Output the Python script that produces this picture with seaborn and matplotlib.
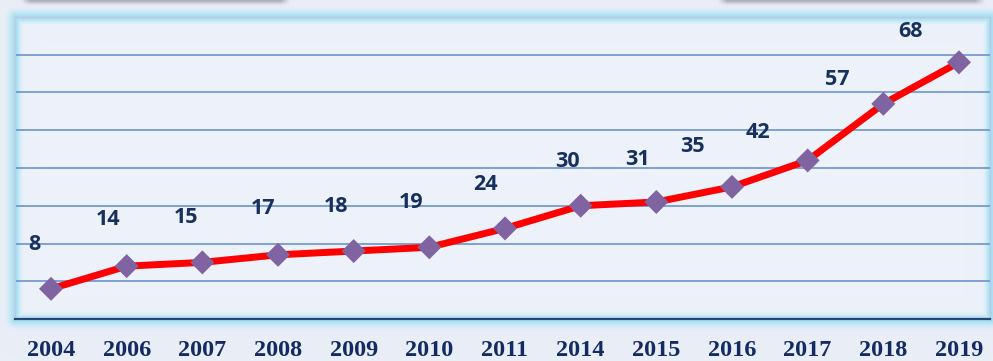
import numpy as np
import pandas as pd
import matplotlib
matplotlib.use("Agg")
import matplotlib.pyplot as plt
import seaborn as sns

# Series
years = ["2004", "2006", "2007", "2008", "2009", "2010", "2011",
         "2014", "2015", "2016", "2017", "2018", "2019"]
values = [8, 14, 15, 17, 18, 19, 24, 30, 31, 35, 42, 57, 68]

# Label placement relative to each marker (pixels, x right / y up, to label centre)
label_offsets = [(-17, 46), (-19, 49), (-16, 47), (-15, 48), (-18, 47), (-18, 47),
                 (-20, 46), (-13, 46), (-19, 44), (-40, 42), (-50, 30), (-46, 26),
                 (-48, 33)]

W, H, DPI = 993, 361, 100
BG = np.array([0xEA, 0xEF, 0xF7]) / 255
PANEL = np.array([0xED, 0xF2, 0xFA]) / 255
GLOW = np.array([0x98, 0xDC, 0xF3]) / 255
SHADOW = np.array([0x80, 0x80, 0x88]) / 255

# panel rectangle in pixel coordinates (row 0 = top)
L, T, R, B = 15, 17, 990, 319

sns.set_style("white")
fig = plt.figure(figsize=(W / DPI, H / DPI), dpi=DPI, facecolor=BG)

# ---- background: panel fill, cyan glow around the frame, soft shadows of the boxes above
yy, xx = np.mgrid[0:H, 0:W].astype(float)
inside = (xx >= L) & (xx <= R) & (yy >= T) & (yy <= B)
d_in = np.minimum.reduce([xx - L, R - xx, yy - T, B - yy])
dx = np.maximum.reduce([L - xx, np.zeros_like(xx), xx - R])
dy = np.maximum.reduce([T - yy, np.zeros_like(yy), yy - B])
d_out = np.hypot(dx, dy)
glow = np.where(inside, np.exp(-0.5 * (d_in / 3.2) ** 2), np.exp(-0.5 * (d_out / 4.5) ** 2))
img = np.where(inside[..., None], PANEL, BG)
a = (0.85 * glow)[..., None]
img = img * (1 - a) + GLOW * a

for x0, x1 in [(20, 290), (717, 985)]:
    edge = np.minimum(xx - x0, x1 - xx)
    horiz = np.clip(edge / 10.0, 0, 1)
    sh = 0.55 * np.exp(-0.5 * (yy / 2.2) ** 2) * horiz
    sh = sh[..., None]
    img = img * (1 - sh) + SHADOW * sh

rgba = np.dstack([img, np.ones((H, W))])
fig.figimage(rgba, xo=0, yo=0, origin="upper", zorder=-1)

ax = fig.add_axes([L / W, 1 - B / H, (R - L) / W, (B - T) / H])
ax.set_facecolor("none")

df = pd.DataFrame({"year": years, "value": values})
sns.lineplot(data=df, x="year", y="value", sort=False, color="#FF0000",
             linewidth=5, ax=ax, zorder=2)
sns.scatterplot(data=df, x="year", y="value", marker="D", s=150,
                color="#8064A2", edgecolor="none", linewidth=0, ax=ax, zorder=3)

ax.set_ylim(0, 80)
ax.set_xlim(-0.476, 12.41)
ax.set_yticks(range(10, 80, 10))
ax.yaxis.grid(True, color="#5F8CC8", linewidth=1.1)
ax.xaxis.grid(False)
ax.set_axisbelow(True)
ax.tick_params(axis="y", left=False, labelleft=False)
ax.tick_params(axis="x", length=0, pad=15)
ax.set_xticks(range(len(years)))
ax.set_xticklabels(years, fontfamily="Liberation Serif", fontweight="bold",
                   fontsize=17.5, color="#132A63")
ax.set_xlabel("")
ax.set_ylabel("")

for side in ["left", "top", "right"]:
    ax.spines[side].set_color("#C4C4D8")
    ax.spines[side].set_linewidth(0.8)
ax.spines["bottom"].set_color("#2C4676")
ax.spines["bottom"].set_linewidth(1.6)

for i, (v, (ox, oy)) in enumerate(zip(values, label_offsets)):
    ax.annotate(str(v), (i, v), xytext=(ox, oy - 7.5), textcoords="offset pixels",
                ha="center", va="baseline", fontfamily="Open Sans", fontweight="bold",
                fontsize=15.5, color="#17305E", zorder=4, annotation_clip=False)

fig.savefig("out.png", dpi=DPI, facecolor=BG)
